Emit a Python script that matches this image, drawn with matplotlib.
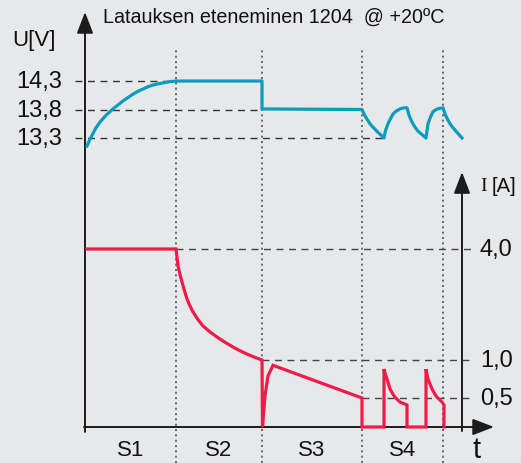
import numpy as np
import matplotlib
matplotlib.use("Agg")
import matplotlib.pyplot as plt

# ---------------- data ----------------
phase_bounds = [0.0, 9.0, 17.6, 27.6, 35.7]
phase_labels = ["S1", "S2", "S3", "S4"]

volt_t = [0.1, 0.4, 0.7, 1.0, 1.4, 2.0, 2.7, 3.2, 3.7, 4.2, 4.7, 5.2, 5.7, 6.2, 6.7, 7.2, 7.8, 8.4, 9.0,
          17.6, 17.6, 27.6,
          27.8, 28.1, 28.4, 28.7, 29.2, 29.8,
          29.95, 30.2, 30.45, 30.7, 31.0, 31.4, 31.8, 32.1,
          32.3, 32.6, 32.9, 33.2, 33.6, 34.0,
          34.1, 34.2, 34.45, 34.7, 35.0, 35.35, 35.7,
          35.8, 35.9, 36.15, 36.4, 36.7, 37.1, 37.6]
volt_u = [13.16, 13.28, 13.38, 13.48, 13.58, 13.70, 13.81, 13.88, 13.95, 14.01, 14.07, 14.12, 14.16, 14.20, 14.23, 14.25, 14.27, 14.29, 14.30,
          14.30, 13.81, 13.80,
          13.72, 13.63, 13.55, 13.49, 13.40, 13.30,
          13.43, 13.55, 13.64, 13.72, 13.77, 13.81, 13.83, 13.83,
          13.70, 13.58, 13.49, 13.42, 13.36, 13.30,
          13.43, 13.55, 13.67, 13.76, 13.80, 13.82, 13.83,
          13.78, 13.72, 13.63, 13.55, 13.48, 13.40, 13.30]

curr_t = [0.1, 9.0, 9.1, 9.2, 9.4, 9.6, 9.85, 10.1, 10.4, 10.7, 11.2, 11.7, 12.4, 13.1, 13.9, 14.7, 15.4, 16.1, 16.8, 17.6,
          17.6, 17.65, 17.9, 18.2, 18.7, 27.6,
          27.6, 29.8, 29.8, 29.95, 30.1, 30.4, 30.65, 30.9, 31.4, 32.1, 32.1,
          34.0, 34.0, 34.1, 34.2, 34.6, 34.85, 35.1, 35.6, 35.8, 35.8]
curr_i = [4.0, 4.0, 3.78, 3.54, 3.31, 3.11, 2.87, 2.65, 2.46, 2.30, 2.09, 1.92, 1.76, 1.62, 1.48, 1.35, 1.25, 1.16, 1.08, 1.0,
          1.0, 0.0, 0.53, 0.79, 0.93, 0.50,
          0.0, 0.0, 0.88, 0.81, 0.75, 0.62, 0.56, 0.51, 0.43, 0.38, 0.0,
          0.0, 0.88, 0.81, 0.75, 0.62, 0.56, 0.51, 0.43, 0.38, 0.0]

volt_ticks = [14.3, 13.8, 13.3]
volt_tick_labels = ["14,3", "13,8", "13,3"]
curr_ticks = [4.0, 1.0, 0.5]
curr_tick_labels = ["4,0", "1,0", "0,5"]
volt_guide_end = [9.0, 17.6, 29.8]
curr_guide_start = [9.0, 17.6, 27.6]

title = "Latauksen eteneminen 1204  @ +20ºC"

# ---------------- style ----------------
BG = "#e7e8ea"
BLUE = "#0b9cbd"
RED = "#ef1b4b"
AX = "#1c1c1c"
GUIDE = "#555555"

plt.rcParams["font.family"] = ["Liberation Sans", "DejaVu Sans"]

fig = plt.figure(figsize=(5.21, 4.64), dpi=100, facecolor=BG)
ax = fig.add_axes([0, 0, 1, 1])
ax.set_facecolor(BG)
ax.set_xlim(-8.6, 43.5)
ax.set_ylim(7.598, 15.739)
ax.axis("off")

# current axis: non-linear schematic scale
I_knots = np.array([0.0, 0.5, 1.0, 4.0])
P_knots = np.array([0.0, 29.0, 67.0, 178.0])

def fwd(i):
    i = np.asarray(i, dtype=float)
    return np.where(i < 0, i * 58.0,
                    np.where(i > 4.0, 178.0 + (i - 4.0) * 37.0,
                             np.interp(i, I_knots, P_knots)))

def inv(p):
    p = np.asarray(p, dtype=float)
    return np.where(p < 0, p / 58.0,
                    np.where(p > 178.0, 4.0 + (p - 178.0) / 37.0,
                             np.interp(p, P_knots, I_knots)))

ax2 = ax.twinx()
ax2.set_yscale("function", functions=(fwd, inv))
ax2.set_ylim(float(inv(-36.0)), float(inv(428.0)))
ax2.set_xlim(-8.6, 43.5)
ax2.axis("off")

xt = ax.get_xaxis_transform()

# dotted phase separators
for b in phase_bounds[1:]:
    ax.plot([b, b], [0.0, 0.892], transform=xt, color=GUIDE, lw=1.2,
            ls=(0, (1.2, 2.0)), zorder=1)

# dashed guide lines
for u, e in zip(volt_ticks, volt_guide_end):
    ax.plot([-1.1, e], [u, u], color="#333333", lw=1.0, ls=(0, (5, 4)), zorder=1)
for i, s in zip(curr_ticks, curr_guide_start):
    ax2.plot([s, 38.6], [i, i], color="#444444", lw=1.0, ls=(0, (5, 4)), zorder=1)

# axes lines with arrows
arr = dict(arrowstyle="-|>,head_length=1.3,head_width=0.5", lw=1.4, color=AX,
           mutation_scale=10, shrinkA=0, shrinkB=0)
ax.annotate("", xy=(-0.1, 0.972), xytext=(-0.1, 0.067), xycoords=xt, textcoords=xt,
            arrowprops=arr)
ax.annotate("", xy=(37.6, 0.627), xytext=(37.6, 0.069), xycoords=xt, textcoords=xt,
            arrowprops=arr)
ax2.annotate("", xy=(40.8, 0.0), xytext=(-0.2, 0.0), arrowprops=arr)

# curves
ax.plot(volt_t, volt_u, color=BLUE, lw=2.3, solid_joinstyle="round", zorder=5)
ax2.plot(curr_t, curr_i, color=RED, lw=2.3, solid_joinstyle="miter", zorder=5)

# tick labels
for u, lab in zip(volt_ticks, volt_tick_labels):
    ax.text(-2.4, u, lab, ha="right", va="center", fontsize=17, color="#111111")
for i, lab in zip(curr_ticks, curr_tick_labels):
    ax2.text(39.4, i, lab, ha="left", va="center", fontsize=17, color="#111111")

# phase labels
for a, b, lab in zip(phase_bounds[:-1], phase_bounds[1:], phase_labels):
    ax.text((a + b) / 2, 0.03, lab, transform=xt, ha="center", va="center",
            fontsize=16, color="#111111")

ax.text(39.1, 0.03, "t", transform=xt, ha="center", va="center", fontsize=21, color="#111111")
ax.text(-5.2, 0.912, "U[V]", transform=xt, ha="center", va="center", fontsize=16, color="#111111")
ax.text(39.4, 0.598, "I", transform=xt, ha="left", va="center", fontsize=14,
        family=["Liberation Serif", "DejaVu Serif"], color="#111111")
ax.text(40.6, 0.598, "[A]", transform=xt, ha="left", va="center", fontsize=14.5, color="#111111")
ax.text(1.7, 0.962, title, transform=xt, ha="left", va="center", fontsize=14.2,
        family=["Liberation Sans Narrow", "Liberation Sans", "DejaVu Sans"], color="#111111")

fig.savefig("out.png", dpi=100, facecolor=BG)
